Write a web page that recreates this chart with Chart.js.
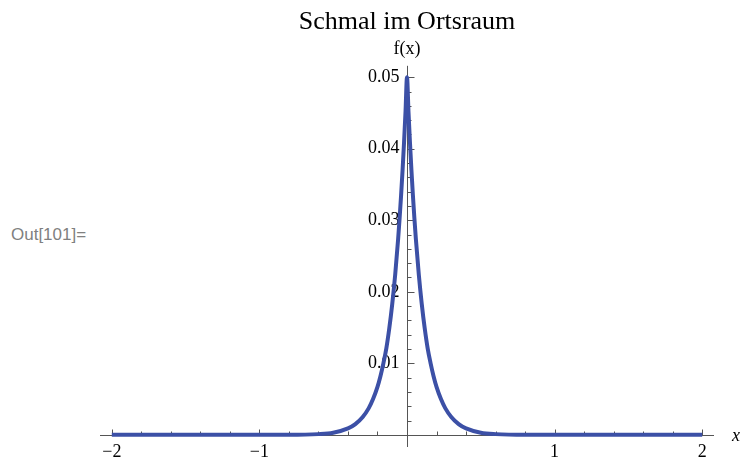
<!DOCTYPE html>
<html>
<head>
<meta charset="utf-8">
<script src="https://cdn.jsdelivr.net/npm/chart.js@4.4.1/dist/chart.umd.min.js"></script>
<style>
  html, body { margin: 0; padding: 0; background: #fff; }
  #out { position: absolute; left: 11px; top: 225px; font: 17px "Liberation Sans", Arial, sans-serif; color: #808080; }
  #wrap { position: absolute; left: 80px; top: 0; width: 661px; height: 463px; }
</style>
</head>
<body>
<div id="out">Out[101]=</div>
<div id="wrap"><canvas id="plot"></canvas></div>
<script>
// Werte
const xs = [-2, -1.5, -1, -0.8, -0.6, -0.5, -0.4, -0.35, -0.3, -0.26, -0.23, -0.2, -0.18, -0.16, -0.14, -0.12, -0.1, -0.08, -0.06, -0.05, -0.04, -0.03, -0.02, -0.01,
            0,
            0.01, 0.02, 0.03, 0.04, 0.05, 0.06, 0.08, 0.1, 0.12, 0.14, 0.16, 0.18, 0.2, 0.23, 0.26, 0.3, 0.35, 0.4, 0.5, 0.6, 0.8, 1, 1.5, 2];
const fx = [0, 0, 0, 0, 0.0001, 0.0003, 0.0009, 0.0015, 0.0025, 0.0037, 0.005, 0.0067, 0.0082, 0.01, 0.0121, 0.0149, 0.0183, 0.0224, 0.0274, 0.0303, 0.0335, 0.037, 0.0409, 0.0452,
            0.05,
            0.0452, 0.0409, 0.037, 0.0335, 0.0303, 0.0274, 0.0224, 0.0183, 0.0149, 0.0121, 0.01, 0.0082, 0.0067, 0.005, 0.0037, 0.0025, 0.0015, 0.0009, 0.0003, 0.0001, 0, 0, 0, 0];
const xTicks = [-2, -1, 1, 2];
const yTicks = [0.01, 0.02, 0.03, 0.04, 0.05];

const serif = '"Liberation Serif", "Times New Roman", serif';

// Achsen im Mathematica-Stil (Kreuz im Ursprung, Striche nach innen)
const axesPlugin = {
  id: 'mmaAxes',
  beforeDatasetsDraw(chart) {
    const { ctx, chartArea, scales: { x, y } } = chart;
    const x0 = Math.round(x.getPixelForValue(0)) + 0.5;
    const y0 = Math.round(y.getPixelForValue(0)) + 0.5;
    ctx.save();
    ctx.strokeStyle = '#555';
    ctx.lineWidth = 1;
    ctx.beginPath();
    ctx.moveTo(chartArea.left, y0); ctx.lineTo(chartArea.right, y0);
    ctx.moveTo(x0, chartArea.top); ctx.lineTo(x0, chartArea.bottom);
    for (let i = -10; i <= 10; i++) {
      if (i === 0) continue;
      const px = Math.round(x.getPixelForValue(i * 0.2)) + 0.5;
      const len = i % 5 === 0 ? 6 : 4;
      ctx.moveTo(px, y0); ctx.lineTo(px, y0 - len);
    }
    for (let j = 1; j <= 25; j++) {
      const py = Math.round(y.getPixelForValue(j * 0.002)) + 0.5;
      const len = j % 5 === 0 ? 7 : 4;
      ctx.moveTo(x0, py); ctx.lineTo(x0 + len, py);
    }
    ctx.stroke();
    ctx.fillStyle = '#000';
    ctx.font = 'italic 18px ' + serif;
    ctx.textBaseline = 'middle';
    ctx.fillText('x', chartArea.right + 18, y0 + 1);
    ctx.restore();
  }
};

new Chart(document.getElementById('plot'), {
  type: 'line',
  data: {
    datasets: [{
      data: xs.map((v, i) => ({ x: v, y: fx[i] })),
      borderColor: '#3c50a6',
      borderWidth: 4,
      pointRadius: 0,
      cubicInterpolationMode: 'monotone',
      fill: false
    }]
  },
  options: {
    responsive: true,
    maintainAspectRatio: false,
    animation: false,
    layout: { padding: { left: 20, right: 27, top: 0, bottom: 16 } },
    plugins: {
      legend: { display: false },
      tooltip: { enabled: false },
      title: {
        display: true, text: 'Schmal im Ortsraum', color: '#000',
        font: { family: serif, size: 26, weight: 'normal' },
        padding: { top: 7, bottom: 0 }
      },
      subtitle: {
        display: true, text: 'f(x)', color: '#000', fullSize: false,
        font: { family: serif, size: 18, weight: 'normal' },
        padding: { top: 0, bottom: 6 }
      }
    },
    scales: {
      x: {
        type: 'linear', min: -2.08, max: 2.08,
        position: { y: 0 },
        grid: { display: false, drawTicks: false },
        border: { display: false },
        afterBuildTicks: s => { s.ticks = xTicks.map(v => ({ value: v })); },
        ticks: {
          padding: 7, color: '#000', autoSkip: false, maxRotation: 0,
          font: { family: serif, size: 18 },
          callback: v => v < 0 ? '\u2212' + Math.abs(v) : String(v)
        }
      },
      y: {
        type: 'linear', min: -0.0017, max: 0.0516,
        position: { x: -0.05 },
        grid: { display: false, drawTicks: false },
        border: { display: false },
        afterBuildTicks: s => { s.ticks = yTicks.map(v => ({ value: v })); },
        ticks: {
          color: '#000', autoSkip: false,
          font: { family: serif, size: 18 },
          callback: v => String(v)
        }
      }
    }
  },
  plugins: [axesPlugin]
});
</script>
</body>
</html>
